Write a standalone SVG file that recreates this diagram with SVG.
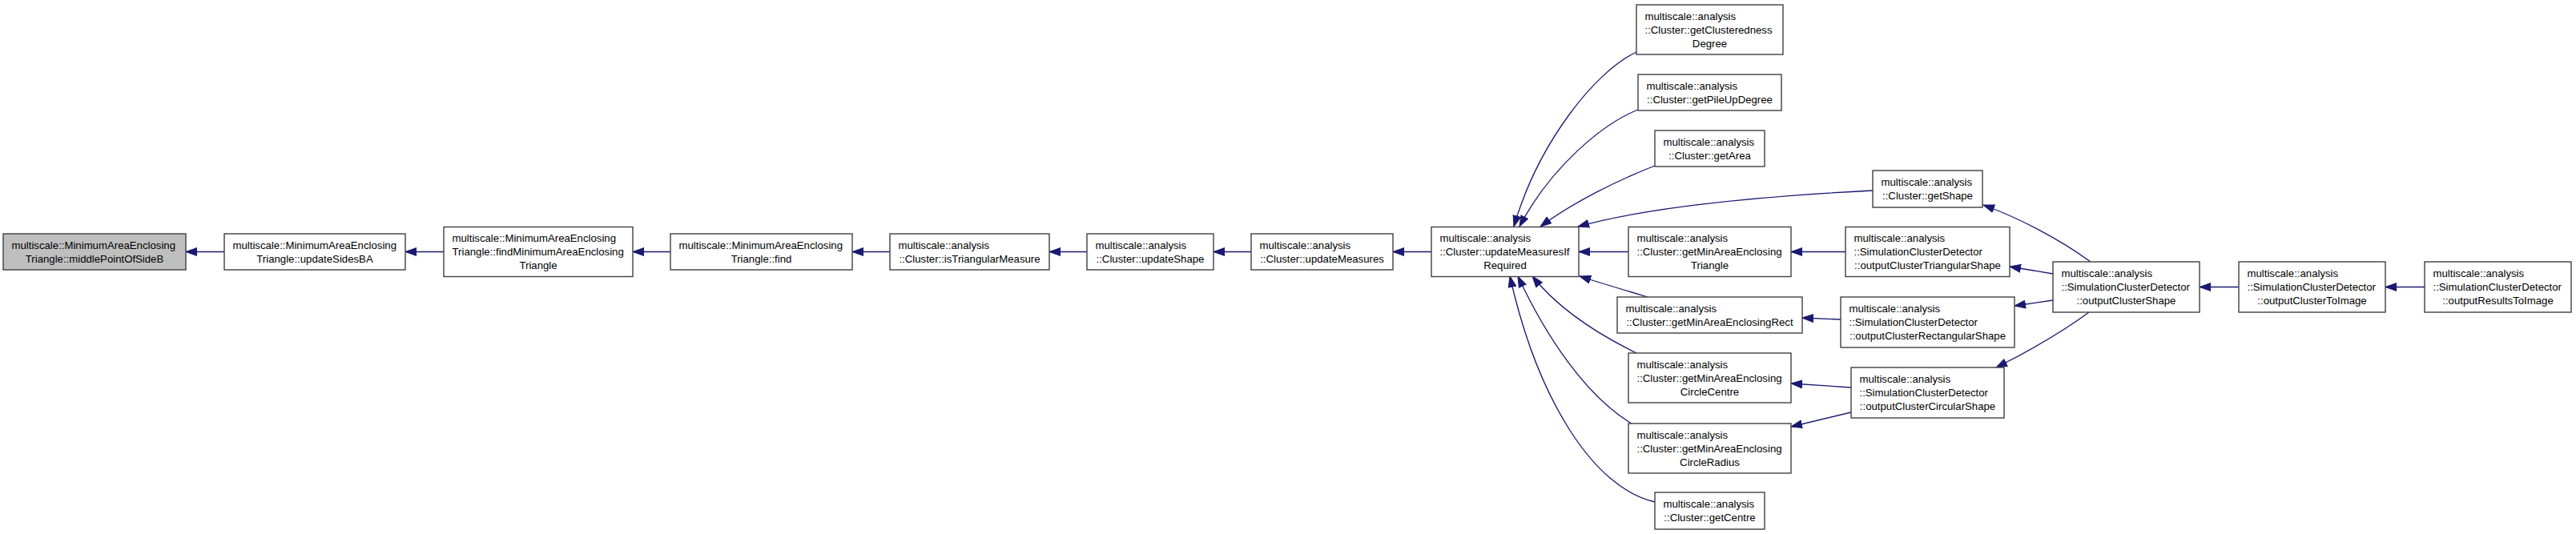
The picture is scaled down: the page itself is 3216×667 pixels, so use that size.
<svg xmlns="http://www.w3.org/2000/svg" width="3216" height="667" viewBox="0 0 3216 667">
<defs>
<style>
.box{fill:#ffffff;stroke:#404040;stroke-width:1.4}
.cur{fill:#bfbfbf;stroke:#404040;stroke-width:1.4}
text{font-family:"Liberation Sans",Arial,Helvetica,sans-serif;font-size:13.2px;fill:#000000}
.l{text-anchor:start}
.c{text-anchor:middle}
.edge{fill:none;stroke:#191970;stroke-width:1.3;marker-end:url(#ah)}
</style>
<marker id="ah" markerUnits="userSpaceOnUse" markerWidth="15" markerHeight="11" viewBox="0 0 15 11" refX="14" refY="5.5" orient="auto">
<path d="M0,0.5 L14,5.5 L0,10.5 z" fill="#191970" stroke="#191970" stroke-width="1"/>
</marker>
</defs>
<rect width="3216" height="667" fill="#ffffff"/>

<g id="edges">
<path class="edge" d="M280,314.5 L232,314.5"/>
<path class="edge" d="M554,314.5 L506,314.5"/>
<path class="edge" d="M837,314.5 L790,314.5"/>
<path class="edge" d="M1111,314.5 L1064,314.5"/>
<path class="edge" d="M1357,314.5 L1310,314.5"/>
<path class="edge" d="M1562,314.5 L1515,314.5"/>
<path class="edge" d="M1787,314.5 L1739,314.5"/>
<path class="edge" d="M2043,65 C1990,90 1920,180 1890,283"/>
<path class="edge" d="M2045,137 C2000,155 1935,210 1897,283"/>
<path class="edge" d="M2066,207 C2020,225 1965,252 1923,283"/>
<path class="edge" d="M2338,238 C2200,245 2060,258 1970,283"/>
<path class="edge" d="M2033,314.5 L1971,314.5"/>
<path class="edge" d="M2057,371 C2030,363 2000,354 1972,345"/>
<path class="edge" d="M2043,441 C1990,415 1945,385 1913,345"/>
<path class="edge" d="M2037,529 C1980,495 1930,420 1895,345"/>
<path class="edge" d="M2066,627 C1990,610 1920,500 1885,345"/>
<path class="edge" d="M2304,314.5 L2236,314.5"/>
<path class="edge" d="M2298,399 L2250,397"/>
<path class="edge" d="M2311,484 L2236,479"/>
<path class="edge" d="M2311,515 L2236,533"/>
<path class="edge" d="M2610,327 C2570,298 2520,272 2476,256"/>
<path class="edge" d="M2563,342 L2509,333"/>
<path class="edge" d="M2563,375 L2515,382"/>
<path class="edge" d="M2608,390 C2570,418 2530,440 2492,459"/>
<path class="edge" d="M2795,358.5 L2746,358.5"/>
<path class="edge" d="M3027,358.5 L2978,358.5"/>
</g>

<g id="n0">
<rect class="cur" x="4" y="292" width="228" height="45"/>
<text class="l" x="14.5" y="310.5">multiscale::MinimumAreaEnclosing</text>
<text class="c" x="118" y="327.5">Triangle::middlePointOfSideB</text>
</g>
<g id="n1">
<rect class="box" x="280" y="292" width="226" height="45"/>
<text class="l" x="290.5" y="310.5">multiscale::MinimumAreaEnclosing</text>
<text class="c" x="393" y="327.5">Triangle::updateSidesBA</text>
</g>
<g id="n2">
<rect class="box" x="554" y="283.5" width="236" height="62"/>
<text class="l" x="564.5" y="302">multiscale::MinimumAreaEnclosing</text>
<text class="l" x="564.5" y="319">Triangle::findMinimumAreaEnclosing</text>
<text class="c" x="672" y="336">Triangle</text>
</g>
<g id="n3">
<rect class="box" x="837" y="292" width="227" height="45"/>
<text class="l" x="847.5" y="310.5">multiscale::MinimumAreaEnclosing</text>
<text class="c" x="950.5" y="327.5">Triangle::find</text>
</g>
<g id="n4">
<rect class="box" x="1111" y="292" width="199" height="45"/>
<text class="l" x="1121.5" y="310.5">multiscale::analysis</text>
<text class="c" x="1210.5" y="327.5">::Cluster::isTriangularMeasure</text>
</g>
<g id="n5">
<rect class="box" x="1357" y="292" width="158" height="45"/>
<text class="l" x="1367.5" y="310.5">multiscale::analysis</text>
<text class="c" x="1436" y="327.5">::Cluster::updateShape</text>
</g>
<g id="n6">
<rect class="box" x="1562" y="292" width="177" height="45"/>
<text class="l" x="1572.5" y="310.5">multiscale::analysis</text>
<text class="c" x="1650.5" y="327.5">::Cluster::updateMeasures</text>
</g>
<g id="n7">
<rect class="box" x="1787" y="283.5" width="184" height="62"/>
<text class="l" x="1797.5" y="302">multiscale::analysis</text>
<text class="l" x="1797.5" y="319">::Cluster::updateMeasuresIf</text>
<text class="c" x="1879" y="336">Required</text>
</g>

<g id="n8">
<rect class="box" x="2043" y="6" width="183" height="62"/>
<text class="l" x="2053.5" y="24.5">multiscale::analysis</text>
<text class="l" x="2053.5" y="41.5">::Cluster::getClusteredness</text>
<text class="c" x="2134.5" y="58.5">Degree</text>
</g>
<g id="n9">
<rect class="box" x="2045" y="93" width="179" height="45"/>
<text class="l" x="2055.5" y="111.5">multiscale::analysis</text>
<text class="c" x="2134.5" y="128.5">::Cluster::getPileUpDegree</text>
</g>
<g id="n10">
<rect class="box" x="2066" y="163" width="137" height="45"/>
<text class="l" x="2076.5" y="181.5">multiscale::analysis</text>
<text class="c" x="2134.5" y="198.5">::Cluster::getArea</text>
</g>
<g id="n11">
<rect class="box" x="2033" y="283.5" width="203" height="62"/>
<text class="l" x="2043.5" y="302">multiscale::analysis</text>
<text class="l" x="2043.5" y="319">::Cluster::getMinAreaEnclosing</text>
<text class="c" x="2134.5" y="336">Triangle</text>
</g>
<g id="n12">
<rect class="box" x="2019" y="371" width="231" height="45"/>
<text class="l" x="2029.5" y="389.5">multiscale::analysis</text>
<text class="c" x="2134.5" y="406.5">::Cluster::getMinAreaEnclosingRect</text>
</g>
<g id="n13">
<rect class="box" x="2033" y="441" width="203" height="62"/>
<text class="l" x="2043.5" y="459.5">multiscale::analysis</text>
<text class="l" x="2043.5" y="476.5">::Cluster::getMinAreaEnclosing</text>
<text class="c" x="2134.5" y="493.5">CircleCentre</text>
</g>
<g id="n14">
<rect class="box" x="2033" y="529" width="203" height="62"/>
<text class="l" x="2043.5" y="547.5">multiscale::analysis</text>
<text class="l" x="2043.5" y="564.5">::Cluster::getMinAreaEnclosing</text>
<text class="c" x="2134.5" y="581.5">CircleRadius</text>
</g>
<g id="n15">
<rect class="box" x="2066" y="615" width="137" height="46"/>
<text class="l" x="2076.5" y="633.5">multiscale::analysis</text>
<text class="c" x="2134.5" y="650.5">::Cluster::getCentre</text>
</g>

<g id="n16">
<rect class="box" x="2338" y="213" width="137" height="46"/>
<text class="l" x="2348.5" y="231.5">multiscale::analysis</text>
<text class="c" x="2406.5" y="248.5">::Cluster::getShape</text>
</g>
<g id="n17">
<rect class="box" x="2304" y="283.5" width="205" height="62"/>
<text class="l" x="2314.5" y="302">multiscale::analysis</text>
<text class="l" x="2314.5" y="319">::SimulationClusterDetector</text>
<text class="c" x="2406.5" y="336">::outputClusterTriangularShape</text>
</g>
<g id="n18">
<rect class="box" x="2298" y="371" width="217" height="63"/>
<text class="l" x="2308.5" y="389.5">multiscale::analysis</text>
<text class="l" x="2308.5" y="406.5">::SimulationClusterDetector</text>
<text class="c" x="2406.5" y="423.5">::outputClusterRectangularShape</text>
</g>
<g id="n19">
<rect class="box" x="2311" y="459" width="191" height="63"/>
<text class="l" x="2321.5" y="477.5">multiscale::analysis</text>
<text class="l" x="2321.5" y="494.5">::SimulationClusterDetector</text>
<text class="c" x="2406.5" y="511.5">::outputClusterCircularShape</text>
</g>
<g id="n20">
<rect class="box" x="2563" y="327" width="183" height="63"/>
<text class="l" x="2573.5" y="345.5">multiscale::analysis</text>
<text class="l" x="2573.5" y="362.5">::SimulationClusterDetector</text>
<text class="c" x="2654.5" y="379.5">::outputClusterShape</text>
</g>
<g id="n21">
<rect class="box" x="2795" y="327" width="183" height="63"/>
<text class="l" x="2805.5" y="345.5">multiscale::analysis</text>
<text class="l" x="2805.5" y="362.5">::SimulationClusterDetector</text>
<text class="c" x="2886.5" y="379.5">::outputClusterToImage</text>
</g>
<g id="n22">
<rect class="box" x="3027" y="327" width="183" height="63"/>
<text class="l" x="3037.5" y="345.5">multiscale::analysis</text>
<text class="l" x="3037.5" y="362.5">::SimulationClusterDetector</text>
<text class="c" x="3118.5" y="379.5">::outputResultsToImage</text>
</g>
</svg>
